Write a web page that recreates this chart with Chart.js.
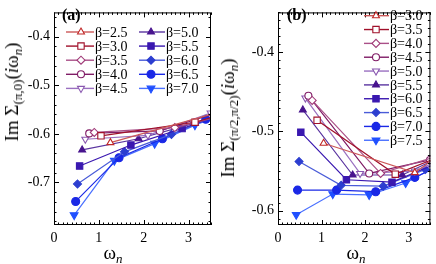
<!DOCTYPE html>
<html>
<head>
<meta charset="utf-8">
<script src="https://cdn.jsdelivr.net/npm/chart.js@4.4.1/dist/chart.umd.min.js"></script>
<style>
  html, body { margin: 0; padding: 0; background: #fff; }
  #wrap { position: relative; width: 436px; height: 264px; overflow: hidden; }
  canvas { position: absolute; top: 0; }
  #chartA { left: 0; }
  #chartB { left: 218px; }
  .ytitle {
    position: absolute;
    white-space: nowrap;
    font: 19px "Liberation Serif", "Times New Roman", serif;
    line-height: 20px;
    color: #000;
    transform: translate(-50%, -50%) rotate(-90deg);
  }
  .ytitle sub { font-size: 13px; vertical-align: -4px; line-height: 0; }
</style>
</head>
<body>
<div id="wrap">
  <canvas id="chartA" width="218" height="264"></canvas>
  <canvas id="chartB" width="218" height="264"></canvas>
  <div class="ytitle" style="left: 11.5px; top: 92px;">Im Σ<sub>(π,0)</sub>(<i>i</i>ω<sub><i>n</i></sub>)</div>
  <div class="ytitle" style="left: 227.5px; top: 118px;">Im Σ<sub>(π/2,π/2)</sub>(<i>i</i>ω<sub><i>n</i></sub>)</div>
</div>
<script>
const xTicks = [0, 1, 2, 3];
const yTicksA = [-0.4, -0.5, -0.6, -0.7];
const yTicksB = [-0.4, -0.5, -0.6];

// panel (a): Sigma at (pi,0)
const betaA = ["2.5", "3.0", "3.5", "4.0", "4.5", "5.0", "5.5", "6.0", "6.5", "7.0"];
const omegaA = [
  [1.257, 3.770],
  [1.047, 3.142, 5.236],
  [0.898, 2.693, 4.488],
  [0.785, 2.356, 3.927],
  [0.698, 2.094, 3.491],
  [0.628, 1.885, 3.142, 4.398],
  [0.571, 1.714, 2.856, 3.998],
  [0.524, 1.571, 2.618, 3.665],
  [0.483, 1.450, 2.417, 3.383, 4.350],
  [0.449, 1.346, 2.244, 3.142, 4.039]
];
const sigmaA = [
  [-0.618, -0.553],
  [-0.604, -0.576, -0.520],
  [-0.597, -0.587, -0.545],
  [-0.599, -0.594, -0.548],
  [-0.611, -0.603, -0.557],
  [-0.633, -0.610, -0.578, -0.545],
  [-0.666, -0.623, -0.589, -0.552],
  [-0.703, -0.637, -0.601, -0.560],
  [-0.739, -0.649, -0.610, -0.570, -0.540],
  [-0.767, -0.655, -0.620, -0.582, -0.550]
];

// panel (b): Sigma at (pi/2,pi/2)
const betaB = ["3.0", "3.5", "4.0", "4.5", "5.0", "5.5", "6.0", "6.5", "7.0", "7.5"];
const omegaB = [
  [1.047, 3.142, 5.236],
  [0.898, 2.693, 4.488],
  [0.785, 2.356, 3.927],
  [0.698, 2.094, 3.491],
  [0.628, 1.885, 3.142, 4.398],
  [0.571, 1.714, 2.856, 3.998],
  [0.524, 1.571, 2.618, 3.665],
  [0.483, 1.450, 2.417, 3.383],
  [0.449, 1.346, 2.244, 3.142, 4.039],
  [0.419, 1.257, 2.094, 2.932, 3.770]
];
const sigmaB = [
  [-0.515, -0.552, -0.470],
  [-0.486, -0.554, -0.515],
  [-0.461, -0.553, -0.527],
  [-0.455, -0.553, -0.536],
  [-0.458, -0.553, -0.550, -0.520],
  [-0.473, -0.555, -0.555, -0.525],
  [-0.501, -0.561, -0.564, -0.540],
  [-0.538, -0.568, -0.569, -0.548],
  [-0.574, -0.574, -0.576, -0.558, -0.535],
  [-0.605, -0.579, -0.580, -0.565, -0.540]
];

const markColors = ["#c02828", "#a0102a", "#a03a78", "#801c66", "#8a58b0", "#48148e", "#3a18b0", "#2c3ed0", "#1a28e6", "#2050ff"];
const lineColors = ["#cc5858", "#a0102a", "#aa5088", "#801c66", "#9a70c0", "#5a34a0", "#3a18b0", "#4a5cd8", "#1a28e6", "#4a70ff"];
const shapes = ["triangle", "rect", "rectRot", "circle", "triangle", "triangle", "rect", "rectRot", "circle", "triangle"];
const rotations = [0, 0, 0, 0, 180, 0, 0, 0, 0, 180];
const filled = [false, false, false, false, false, true, true, true, true, true];
const radii = [4, 4.5, 4, 3.5, 4, 4, 4.5, 4, 4, 4.5];

const SERIF = '"Liberation Serif", "Times New Roman", serif';

// positions of the hand-drawn decorations, per panel
const deco = {
  chartA: {
    minor: 0.02,
    legend: { perCol: 5, y0: 32, dy: 14.1, cols: [{ x1: 66, x2: 94, xm: 81 }, { x1: 139, x2: 165, xm: 151 }] },
    xx: 113, xy: 259, tag: "(a)", tagx: 62, tagy: 20
  },
  chartB: {
    minor: 0.01,
    legend: { perCol: 10, y0: 15.7, dy: 13.84, cols: [{ x1: 146, x2: 171, xm: 158 }] },
    xx: 138, xy: 259, tag: "(b)", tagx: 69, tagy: 20
  }
};

function makeDatasets(betas, omegas, sigmas) {
  return betas.map((b, i) => ({
    label: "β=" + b,
    data: omegas[i].map((x, j) => ({ x, y: sigmas[i][j] })),
    borderColor: lineColors[i],
    borderWidth: 1.2,
    pointStyle: shapes[i],
    pointRotation: rotations[i],
    pointRadius: radii[i],
    pointBorderWidth: 1.1,
    pointBorderColor: markColors[i],
    pointBackgroundColor: filled[i] ? markColors[i] : "#fff",
    tension: 0,
    fill: false
  }));
}

function drawRich(ctx, segs, x, y) {
  let total = 0;
  segs.forEach(([t, font]) => { ctx.font = font; total += ctx.measureText(t).width; });
  let cx = x - total / 2;
  ctx.textAlign = "left";
  ctx.textBaseline = "alphabetic";
  segs.forEach(([t, font, dy]) => {
    ctx.font = font;
    ctx.fillText(t, cx, y + (dy || 0));
    cx += ctx.measureText(t).width;
  });
}

const framePlugin = {
  id: "frame",
  afterDraw(chart) {
    const { ctx, chartArea: a, scales } = chart;
    const cfg = deco[chart.canvas.id];
    ctx.save();
    ctx.strokeStyle = "#000";
    ctx.lineWidth = 1;
    ctx.strokeRect(a.left + 0.5, a.top + 0.5, a.right - a.left - 1, a.bottom - a.top - 1);
    ctx.beginPath();
    const xs = scales.x, ys = scales.y;
    for (let k = 0; k <= 35; k++) {
      const px = Math.round(xs.getPixelForValue(k / 10)) + 0.5;
      const len = k % 10 === 0 ? 5 : 2.5;
      ctx.moveTo(px, a.bottom); ctx.lineTo(px, a.bottom - len);
      ctx.moveTo(px, a.top); ctx.lineTo(px, a.top + len);
    }
    const step = cfg.minor;
    const start = Math.ceil(ys.min / step - 1e-9);
    const end = Math.floor(ys.max / step + 1e-9);
    for (let k = start; k <= end; k++) {
      const v = k * step;
      const py = Math.round(ys.getPixelForValue(v)) + 0.5;
      const major = Math.abs(v * 10 - Math.round(v * 10)) < 1e-6;
      const len = major ? 5 : 2.5;
      ctx.moveTo(a.left, py); ctx.lineTo(a.left + len, py);
      ctx.moveTo(a.right, py); ctx.lineTo(a.right - len, py);
    }
    ctx.stroke();

    // legend
    const lg = cfg.legend;
    chart.data.datasets.forEach((ds, i) => {
      const col = lg.cols[Math.floor(i / lg.perCol)];
      const y = lg.y0 + (i % lg.perCol) * lg.dy;
      ctx.strokeStyle = lineColors[i];
      ctx.lineWidth = 1.4;
      ctx.beginPath();
      ctx.moveTo(col.x1, y); ctx.lineTo(col.x2, y);
      ctx.stroke();
      ctx.lineWidth = 1.1;
      ctx.strokeStyle = markColors[i];
      ctx.fillStyle = filled[i] ? markColors[i] : "#fff";
      Chart.helpers.drawPoint(ctx, { pointStyle: shapes[i], rotation: rotations[i], radius: radii[i], borderWidth: 1.1 }, col.xm, y);
      ctx.fillStyle = "#000";
      ctx.font = "14px " + SERIF;
      ctx.textAlign = "left";
      ctx.textBaseline = "middle";
      ctx.fillText(ds.label, col.x2 + 1, y + 1);
    });

    // x title and panel tag
    ctx.fillStyle = "#000";
    drawRich(ctx, [["ω", "19px " + SERIF], ["n", "italic 13px " + SERIF, 4]], cfg.xx, cfg.xy);
    ctx.font = "bold 16px " + SERIF;
    ctx.textAlign = "left";
    ctx.textBaseline = "alphabetic";
    ctx.fillText(cfg.tag, cfg.tagx, cfg.tagy);
    ctx.restore();
  }
};

function makeChart(id, datasets, yMin, yTicks, yWidth, padRight) {
  return new Chart(document.getElementById(id), {
    type: "line",
    data: { datasets },
    plugins: [framePlugin],
    options: {
      responsive: false,
      animation: false,
      devicePixelRatio: 1,
      layout: { padding: { left: 0, right: padRight, top: 0, bottom: 0 } },
      plugins: { legend: { display: false }, tooltip: { enabled: false } },
      scales: {
        x: {
          type: "linear",
          min: 0,
          max: 3.5,
          afterBuildTicks: (s) => { s.ticks = xTicks.map((v) => ({ value: v })); },
          afterFit: (s) => { s.height = 39; },
          grid: { display: false, drawTicks: false },
          border: { display: false },
          ticks: { color: "#000", padding: 5, font: { family: SERIF, size: 14 }, callback: (v) => String(v) }
        },
        y: {
          type: "linear",
          min: yMin,
          max: -0.35,
          afterBuildTicks: (s) => { s.ticks = yTicks.map((v) => ({ value: v })); },
          afterFit: (s) => { s.width = yWidth; },
          grid: { display: false, drawTicks: false },
          border: { display: false },
          ticks: { color: "#000", padding: 4, autoSkip: false, font: { family: SERIF, size: 14 }, callback: (v) => v.toFixed(1) }
        }
      }
    }
  });
}

makeChart("chartA", makeDatasets(betaA, omegaA, sigmaA), -0.7875, yTicksA, 54, 7);
makeChart("chartB", makeDatasets(betaB, omegaB, sigmaB), -0.618, yTicksB, 60, 1);
</script>
</body>
</html>
